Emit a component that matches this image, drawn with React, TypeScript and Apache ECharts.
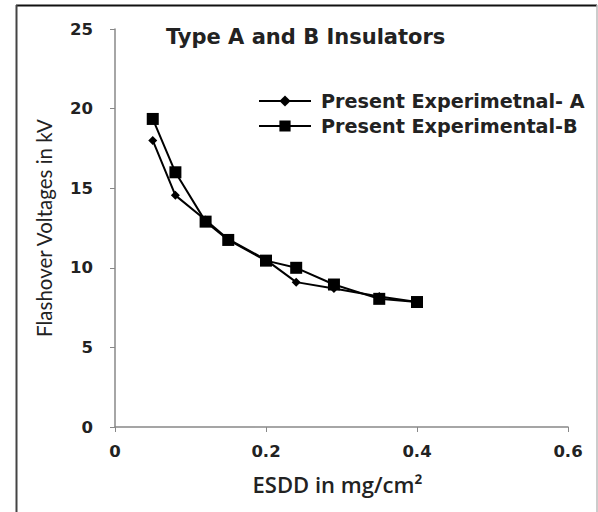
import React, { useEffect, useRef } from "react";
import * as echarts from "echarts";

const esddA = [0.05, 0.08, 0.12, 0.15, 0.2, 0.24, 0.29, 0.35, 0.4];
const voltA = [18.0, 14.55, 13.0, 11.8, 10.5, 9.1, 8.7, 8.2, 7.85];
const esddB = [0.05, 0.08, 0.12, 0.15, 0.2, 0.24, 0.29, 0.35, 0.4];
const voltB = [19.35, 16.0, 12.9, 11.75, 10.45, 10.0, 8.95, 8.05, 7.85];
const nameA = "Present Experimetnal- A";
const nameB = "Present Experimental-B";
const chartTitle = "Type A and B Insulators";
const xName = "ESDD in mg/cm²";
const yName = "Flashover Voltages in kV";

const LATO = "Lato, 'Open Sans', sans-serif";
const OPEN = "'Open Sans', Lato, sans-serif";
const DEJA = "'DejaVu Sans', 'Open Sans', sans-serif";

export default function App() {
  const ref = useRef<HTMLDivElement>(null);
  useEffect(() => {
    if (!ref.current) return;
    const chart = echarts.init(ref.current, null, { renderer: "svg" });
    const pairs = (xs: number[], ys: number[]) => xs.map((x, i) => [x, ys[i]]);
    chart.setOption({
      animation: false,
      backgroundColor: "#fff",
      textStyle: { fontFamily: OPEN },
      title: {
        text: chartTitle,
        left: 166,
        top: 25,
        padding: 0,
        textStyle: { fontFamily: DEJA, fontSize: 21, fontWeight: "bold", color: "#222", lineHeight: 24 },
      },
      legend: {
        orient: "vertical",
        left: 258,
        top: 90,
        padding: 0,
        itemGap: 3,
        itemWidth: 52,
        itemHeight: 14,
        textStyle: {
          fontFamily: DEJA,
          fontSize: 19.2,
          fontWeight: "bold",
          color: "#222",
          lineHeight: 22,
          padding: [0, 0, 0, 5],
        },
        data: [nameA, nameB],
      },
      grid: { left: 115, right: 30, top: 29, bottom: 85 },
      xAxis: {
        type: "value",
        min: 0,
        max: 0.6,
        interval: 0.2,
        name: xName,
        nameLocation: "middle",
        nameGap: 46,
        nameTextStyle: { fontFamily: OPEN, fontSize: 22, fontWeight: 600, color: "#222", padding: [0, 8, 0, 0] },
        axisLine: { show: true, onZero: false, lineStyle: { color: "#888", width: 1.5 } },
        axisTick: { show: true, length: 5, lineStyle: { color: "#888" } },
        axisLabel: { fontFamily: DEJA, fontSize: 16.5, fontWeight: "bold", color: "#222", margin: 16 },
        splitLine: { show: false },
      },
      yAxis: {
        type: "value",
        min: 0,
        max: 25,
        interval: 5,
        name: yName,
        nameLocation: "middle",
        nameGap: 61,
        nameTextStyle: { fontFamily: LATO, fontSize: 20.5, color: "#222" },
        axisLine: { show: true, lineStyle: { color: "#888", width: 1.5 } },
        axisTick: { show: true, length: 5, lineStyle: { color: "#888" } },
        axisLabel: { fontFamily: DEJA, fontSize: 16.5, fontWeight: "bold", color: "#222", margin: 22 },
        splitLine: { show: false },
      },
      series: [
        {
          name: nameA,
          type: "line",
          data: pairs(esddA, voltA),
          symbol: "diamond",
          symbolSize: 9,
          lineStyle: { color: "#000", width: 2 },
          itemStyle: { color: "#000" },
          z: 3,
        },
        {
          name: nameB,
          type: "line",
          data: pairs(esddB, voltB),
          symbol: "rect",
          symbolSize: 12,
          lineStyle: { color: "#000", width: 2 },
          itemStyle: { color: "#000" },
          z: 2,
        },
      ],
      graphic: [
        { type: "line", shape: { x1: 16, y1: 5.5, x2: 597, y2: 5.5 }, style: { stroke: "#111", lineWidth: 2 } },
        { type: "line", shape: { x1: 16.5, y1: 5, x2: 16.5, y2: 512 }, style: { stroke: "#444", lineWidth: 2 } },
        { type: "line", shape: { x1: 597, y1: 5, x2: 597, y2: 512 }, style: { stroke: "#bbb", lineWidth: 1.5 } },
      ],
    });
    return () => chart.dispose();
  }, []);
  return (
    <div
      ref={ref}
      style={{ position: "fixed", left: 0, top: 0, width: 598, height: 512 }}
    />
  );
}
